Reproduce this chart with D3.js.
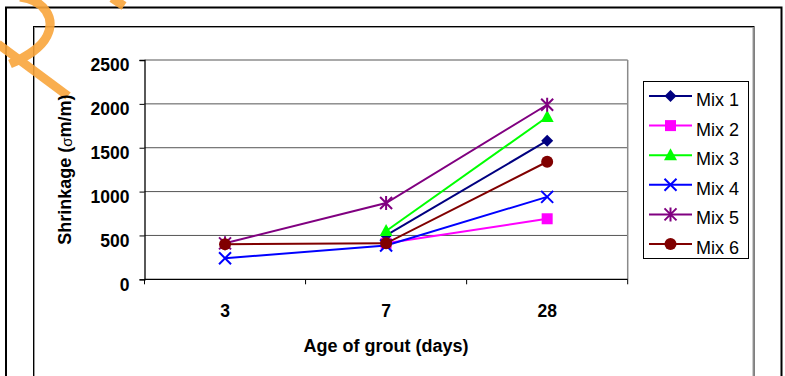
<!DOCTYPE html>
<html>
<head>
<meta charset="utf-8">
<script src="https://cdn.jsdelivr.net/npm/d3@7"></script>
<style>
  html, body { margin: 0; padding: 0; background: #fff; }
  svg { display: block; }
  text { font-family: Arial, "Liberation Sans", sans-serif; fill: #000; }
</style>
</head>
<body>
<svg id="chart" width="785" height="376"></svg>
<script>
// Grout shrinkage by age, six mixes
const ages = ["3", "7", "28"];
const yTicks = [0, 500, 1000, 1500, 2000, 2500];
const seriesNames = ["Mix 1", "Mix 2", "Mix 3", "Mix 4", "Mix 5", "Mix 6"];
const mix1 = [null, 500, 1580];
const mix2 = [null, 410, 690];
const mix3 = [null, 550, 1850];
const mix4 = [240, 385, 940];
const mix5 = [410, 870, 1990];
const mix6 = [400, 410, 1340];
const seriesValues = [mix1, mix2, mix3, mix4, mix5, mix6];
const seriesColors = ["#000080", "#ff00ff", "#00ff00", "#0000ff", "#800080", "#800000"];
const seriesSymbols = ["diamond", "square", "triangle", "cross", "star", "circle"];

const svg = d3.select("#chart");

// chart frames
svg.append("rect").attr("x", 6).attr("y", 7.5).attr("width", 775.5).attr("height", 400)
  .attr("fill", "none").attr("stroke", "#000").attr("stroke-width", 2);
svg.append("rect").attr("x", 33.5).attr("y", 26.5).attr("width", 720.5).attr("height", 400)
  .attr("fill", "none").attr("stroke", "#000").attr("stroke-width", 1);
svg.append("rect").attr("x", 34.5).attr("y", 27.5).attr("width", 718.5).attr("height", 400)
  .attr("fill", "none").attr("stroke", "#9a9a9a").attr("stroke-width", 1);

// background mark in the corner
const mark = svg.append("g").attr("fill", "none").attr("stroke", "#f9a63c")
  .attr("stroke-width", 9).attr("opacity", 0.9);
mark.append("path").attr("d", "M20,-3 C44,0 56,18 47,36 C41,48 28,56 10,64");
mark.append("path").attr("d", "M-2,44 L68,96");
mark.append("path").attr("d", "M112,-2 L124,6");

const plot = { left: 144.5, right: 627.7, top: 60, bottom: 279.3 };

const x = d3.scaleBand().domain(ages).range([plot.left, plot.right]).padding(0);
const y = d3.scaleLinear().domain([0, 2500]).range([plot.bottom, plot.top]);

// horizontal gridlines
svg.append("g").selectAll("line").data(yTicks.filter(d => d > 0)).join("line")
  .attr("x1", plot.left).attr("x2", plot.right)
  .attr("y1", d => y(d)).attr("y2", d => y(d))
  .attr("stroke", "#555").attr("stroke-width", 1);

// plot border (right side)
svg.append("line").attr("x1", plot.right).attr("x2", plot.right)
  .attr("y1", plot.top).attr("y2", plot.bottom)
  .attr("stroke", "#8a8a8a").attr("stroke-width", 1.5);

// y axis
const yAxis = svg.append("g").attr("transform", `translate(${plot.left},0)`)
  .call(d3.axisLeft(y).tickValues(yTicks).tickSize(5).tickPadding(10).tickFormat(d3.format("d")));
yAxis.select(".domain").attr("stroke", "#000").attr("stroke-width", 1.3);
yAxis.selectAll(".tick line").attr("stroke", "#000");
yAxis.selectAll(".tick text")
  .attr("font-family", "Arial, 'Liberation Sans', sans-serif")
  .attr("font-size", 17.5).attr("font-weight", "bold").attr("fill", "#000")
  .attr("dy", "0.62em");

// x axis: ticks on category boundaries, labels on centres
const xEdges = ages.map(a => x(a)).concat([x.range()[1]]);
const xAxis = svg.append("g");
xAxis.append("line").attr("x1", plot.left).attr("x2", plot.right)
  .attr("y1", plot.bottom).attr("y2", plot.bottom)
  .attr("stroke", "#000").attr("stroke-width", 1.3);
xAxis.selectAll("line.tk").data(xEdges).join("line").attr("class", "tk")
  .attr("x1", d => d).attr("x2", d => d)
  .attr("y1", plot.bottom).attr("y2", plot.bottom + 5)
  .attr("stroke", "#000");
xAxis.selectAll("text").data(ages).join("text")
  .attr("x", d => x(d) + x.bandwidth() / 2).attr("y", 317)
  .attr("text-anchor", "middle").attr("font-size", 17.5).attr("font-weight", "bold")
  .text(d => d);

// axis titles
svg.append("text").attr("x", (plot.left + plot.right) / 2).attr("y", 352)
  .attr("text-anchor", "middle").attr("font-size", 18).attr("font-weight", "bold")
  .text("Age of grout (days)");
const yTitle = svg.append("text")
  .attr("transform", `translate(70.5,${(plot.top + plot.bottom) / 2}) rotate(-90)`)
  .attr("text-anchor", "middle").attr("font-size", 18).attr("font-weight", "bold");
yTitle.append("tspan").text("Shrinkage (");
yTitle.append("tspan").attr("font-size", 15).attr("font-weight", "normal").attr("dy", 1).text("σ");
yTitle.append("tspan").attr("dy", -1).text("m/m)");

// marker shapes
function drawMarker(g, kind, color) {
  if (kind === "diamond") {
    g.append("path").attr("d", "M0,-6 L6,0 L0,6 L-6,0 Z").attr("fill", color);
  } else if (kind === "square") {
    g.append("rect").attr("x", -5.5).attr("y", -5.5).attr("width", 11).attr("height", 11).attr("fill", color);
  } else if (kind === "triangle") {
    g.append("path").attr("d", "M0,-7 L6.5,5 L-6.5,5 Z").attr("fill", color);
  } else if (kind === "cross") {
    g.append("path").attr("d", "M-6,-6 L6,6 M-6,6 L6,-6").attr("stroke", color).attr("stroke-width", 2).attr("fill", "none");
  } else if (kind === "star") {
    g.append("path").attr("d", "M-6,-6 L6,6 M-6,6 L6,-6 M0,-7 L0,7").attr("stroke", color).attr("stroke-width", 2).attr("fill", "none");
  } else if (kind === "circle") {
    g.append("circle").attr("r", 6).attr("fill", color);
  }
}

// series lines and markers
const line = d3.line()
  .defined(d => d.v !== null)
  .x(d => x(d.age) + x.bandwidth() / 2)
  .y(d => y(d.v));

seriesValues.forEach((vals, i) => {
  const pts = ages.map((a, j) => ({ age: a, v: vals[j] }));
  const g = svg.append("g");
  g.append("path").datum(pts).attr("d", line)
    .attr("fill", "none").attr("stroke", seriesColors[i]).attr("stroke-width", 2);
  pts.filter(p => p.v !== null).forEach(p => {
    const m = g.append("g").attr("transform", `translate(${x(p.age) + x.bandwidth() / 2},${y(p.v)})`);
    drawMarker(m, seriesSymbols[i], seriesColors[i]);
  });
});

// legend
const legend = svg.append("g");
legend.append("rect").attr("x", 643.5).attr("y", 81.5).attr("width", 105).attr("height", 177)
  .attr("fill", "#fff").attr("stroke", "#000").attr("stroke-width", 1);
seriesNames.forEach((name, i) => {
  const ly = 96 + i * 29.6;
  const row = legend.append("g");
  row.append("line").attr("x1", 649).attr("x2", 692).attr("y1", ly).attr("y2", ly)
    .attr("stroke", seriesColors[i]).attr("stroke-width", 2);
  drawMarker(row.append("g").attr("transform", `translate(670.5,${ly})`), seriesSymbols[i], seriesColors[i]);
  row.append("text").attr("x", 696).attr("y", ly + 10).attr("font-size", 18).text(name);
});
</script>
</body>
</html>
